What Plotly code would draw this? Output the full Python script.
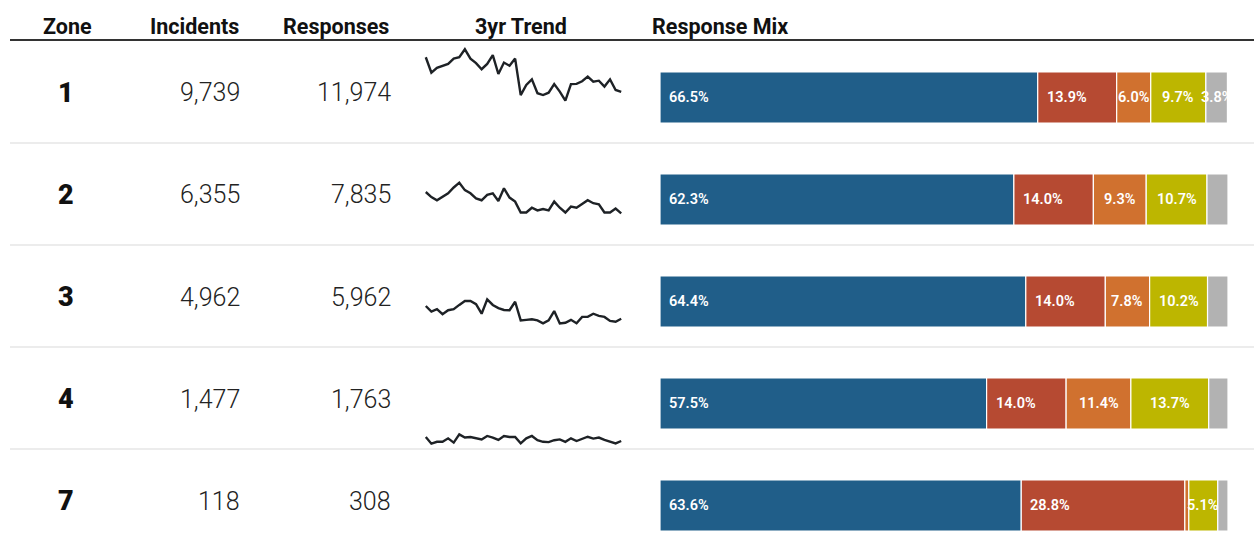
import plotly.graph_objects as go

# ---------------- data ----------------
zones = ["1", "2", "3", "4", "7"]
incidents = [9739, 6355, 4962, 1477, 118]
responses = [11974, 7835, 5962, 1763, 308]

mix_names = ["A", "B", "C", "D", "Other"]
mix_blue = [66.5, 62.3, 64.4, 57.5, 63.6]
mix_red = [13.9, 14.0, 14.0, 14.0, 28.8]
mix_orange = [6.0, 9.3, 7.8, 11.4, 0.7]
mix_yellow = [9.7, 10.7, 10.2, 13.7, 5.1]
mix_gray = [3.8, 3.7, 3.6, 3.4, 1.8]
label_blue = [True, True, True, True, True]
label_red = [True, True, True, True, True]
label_orange = [True, True, True, True, False]
label_yellow = [True, True, True, True, True]
label_gray = [True, False, False, False, False]

trend_zone1 = [322, 264, 282, 290, 297, 317, 322, 352, 317, 300, 277, 297,
               330, 259, 302, 290, 317, 180, 218, 239, 187, 180, 189, 221,
               193, 159, 221, 222, 232, 249, 230, 234, 212, 239, 199, 192]
trend_zone2 = [199, 180, 168, 180, 194, 216, 234, 206, 194, 175, 168, 188,
               194, 165, 213, 178, 163, 122, 122, 140, 130, 135, 130, 163,
               140, 122, 144, 140, 155, 168, 157, 153, 122, 122, 137, 119]
trend_zone3 = [154, 133, 142, 123, 138, 142, 158, 173, 173, 161, 125, 179,
               158, 146, 139, 138, 170, 100, 102, 104, 100, 89, 100, 135,
               88, 91, 102, 89, 113, 113, 125, 117, 113, 98, 95, 106]
trend_zone4 = [45, 20, 27, 27, 40, 24, 55, 43, 45, 40, 36, 49,
               43, 34, 49, 45, 45, 21, 40, 49, 33, 27, 26, 33,
               36, 27, 40, 30, 39, 46, 39, 43, 34, 27, 21, 30]
trends = [trend_zone1, trend_zone2, trend_zone3, trend_zone4]

headers = ["Zone", "Incidents", "Responses", "3yr Trend", "Response Mix"]

# ---------------- styling ----------------
W, H = 1254, 544
FONT = "Roboto"
colors = ["#205E89", "#B64A32", "#D0712F", "#BDB600", "#B2B2B2"]
ROW_H = 102
ROW0_TOP = 41

def py(px):
    return 1 - px / H

def px_x(px):
    return px / W

fig = go.Figure()

# ---------------- stacked bars ----------------
series = [mix_blue, mix_red, mix_orange, mix_yellow, mix_gray]
labels = [label_blue, label_red, label_orange, label_yellow, label_gray]
anchors = ["start", "start", "middle", "middle", "middle"]
rows = list(range(len(zones)))
annotations = []
cum = [0.0] * len(zones)
lab_font = dict(family=FONT, size=14.5, color="white", weight=600)
for name, vals, col, labs, anc in zip(mix_names, series, colors, labels, anchors):
    fig.add_trace(go.Bar(
        x=vals, y=rows, base=cum[:], orientation="h", name=name,
        marker=dict(color=col, line=dict(color="white", width=1.2)),
        width=0.5, xaxis="x", yaxis="y", hoverinfo="skip", showlegend=False,
    ))
    for i, (v, show) in enumerate(zip(vals, labs)):
        if show:
            if anc == "start":
                annotations.append(dict(
                    x=cum[i], y=i, xref="x", yref="y", text=f"{v:.1f}%",
                    xanchor="left", xshift=7, showarrow=False, font=lab_font))
            else:
                annotations.append(dict(
                    x=cum[i] + v / 2, y=i, xref="x", yref="y", text=f"{v:.1f}%",
                    xanchor="center", showarrow=False, font=lab_font))
        cum[i] += v

# ---------------- sparklines ----------------
for i, tr in enumerate(trends):
    ax = i + 2
    fig.add_trace(go.Scatter(
        x=list(range(len(tr))), y=tr, mode="lines",
        line=dict(color="#1E2226", width=2.4),
        xaxis="x2", yaxis=f"y{ax}", hoverinfo="skip", showlegend=False,
    ))

layout_axes = dict(
    xaxis=dict(domain=[px_x(660), px_x(1228)], range=[0, 100], visible=False, fixedrange=True),
    yaxis=dict(domain=[0, 1], range=[(H - 97.5) / ROW_H, -97.5 / ROW_H],
               visible=False, fixedrange=True),
    xaxis2=dict(domain=[px_x(423), px_x(624)], range=[-0.5, 35.5], visible=False,
                anchor="y2", fixedrange=True),
)
for i in range(len(trends)):
    top = ROW0_TOP + ROW_H * i - 6
    bot = ROW0_TOP + ROW_H * (i + 1)
    layout_axes[f"yaxis{i + 2}"] = dict(
        domain=[py(bot), py(top)], range=[0, 383 * (bot - top) / ROW_H],
        visible=False, fixedrange=True, anchor="x2")

# ---------------- table text ----------------
header_y = py(26)
hdr_pos = [(67, "center"), (194, "center"), (336, "center"), (521, "center"), (650, "left")]
for txt, (x, anc) in zip(headers, hdr_pos):
    annotations.append(dict(x=px_x(x), y=header_y, xref="paper", yref="paper",
                            text=txt, xanchor=anc, yanchor="middle", showarrow=False,
                            font=dict(family=FONT, size=21.5, color="#111", weight=700)))

for i, (z, inc, resp) in enumerate(zip(zones, incidents, responses)):
    yc = py(93 + ROW_H * i)
    annotations.append(dict(x=px_x(66), y=yc, xref="paper", yref="paper", text=z,
                            xanchor="center", yanchor="middle", showarrow=False,
                            font=dict(family=FONT, size=27, color="#111", weight=900)))
    annotations.append(dict(x=px_x(242), y=yc, xref="paper", yref="paper", text=f"{inc:,}",
                            xanchor="right", yanchor="middle", showarrow=False,
                            font=dict(family=FONT, size=25, color="#222", weight=300)))
    annotations.append(dict(x=px_x(393), y=yc, xref="paper", yref="paper", text=f"{resp:,}",
                            xanchor="right", yanchor="middle", showarrow=False,
                            font=dict(family=FONT, size=25, color="#222", weight=300)))

shapes = [dict(type="line", xref="paper", yref="paper", x0=px_x(10), x1=1,
               y0=py(40), y1=py(40), line=dict(color="#333", width=2))]
for i in range(1, len(zones)):
    yy = ROW0_TOP + ROW_H * i
    shapes.append(dict(type="line", xref="paper", yref="paper", x0=px_x(10), x1=1,
                       y0=py(yy), y1=py(yy), line=dict(color="#DADADA", width=1.2)))

fig.update_layout(
    width=W, height=H, margin=dict(l=0, r=0, t=0, b=0),
    paper_bgcolor="white", plot_bgcolor="rgba(0,0,0,0)",
    barmode="overlay", annotations=annotations, shapes=shapes,
    font=dict(family=FONT), **layout_axes,
)

fig.write_html("out.html", config={"displayModeBar": False})
